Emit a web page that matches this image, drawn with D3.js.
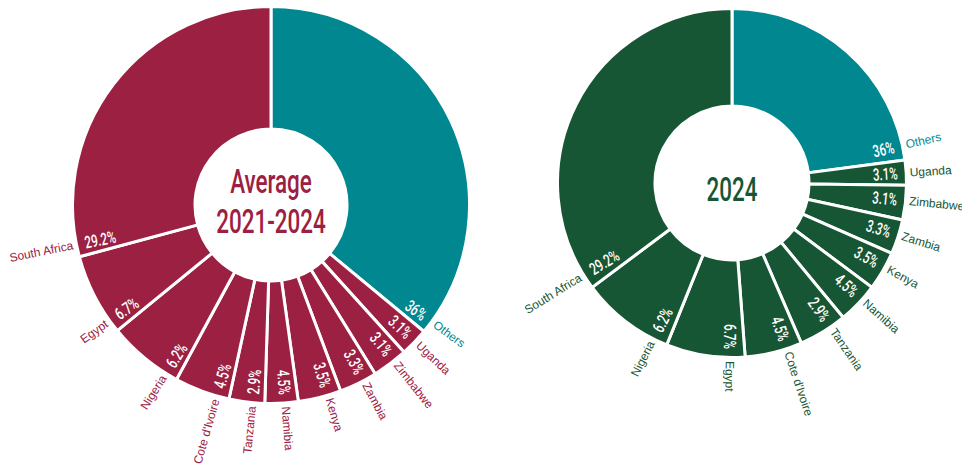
<!DOCTYPE html>
<html>
<head>
<meta charset="utf-8">
<script src="https://cdn.jsdelivr.net/npm/d3@7"></script>
<style>
  html, body { margin: 0; padding: 0; background: #ffffff; }
  svg { display: block; }
</style>
</head>
<body>
<svg id="chart" width="962" height="468"></svg>
<script>
// ---------- DATA ----------
// Average 2021-2024 (slice shares as drawn, clockwise from 12 o'clock)
const categoriesAvg = ["Others", "Uganda", "Zimbabwe", "Zambia", "Kenya", "Namibia", "Tanzania", "Cote d'Ivoire", "Nigeria", "Egypt", "South Africa"];
const sharesAvg     = [36.0, 2.3, 2.9, 3.1, 3.5, 2.7, 2.9, 4.5, 6.2, 6.7, 29.2];
const labelsAvg     = [36, 3.1, 3.1, 3.3, 3.5, 4.5, 2.9, 4.5, 6.2, 6.7, 29.2];

// 2024
const categories2024 = ["Others", "Uganda", "Zimbabwe", "Zambia", "Kenya", "Namibia", "Tanzania", "Cote d'Ivoire", "Egypt", "Nigeria", "South Africa"];
const shares2024     = [22.9, 2.3, 3.2, 3.2, 3.6, 3.8, 4.5, 5.3, 7.3, 8.7, 35.2];
const labels2024     = [36, 3.1, 3.1, 3.3, 3.5, 4.5, 2.9, 4.5, 6.7, 6.2, 29.2];

const titleAvg  = ["Average", "2021-2024"];
const title2024 = ["2024"];

// ---------- STYLE ----------
const TEAL = "#00878f";
const MAROON = "#9b2042";
const GREEN = "#175634";
const CONDENSED = "Roboto, 'Liberation Sans', sans-serif";
const SANS = "'Liberation Sans', Arial, Helvetica, sans-serif";

const svg = d3.select("#chart");

function drawDonut(cfg) {
  const g = svg.append("g").attr("transform", `translate(${cfg.cx},${cfg.cy})`);
  const pie = d3.pie().sort(null).value(d => d);
  const arcs = pie(cfg.shares);
  const arc = d3.arc().innerRadius(cfg.r0).outerRadius(cfg.r1 + 1.5);

  g.selectAll("path.slice")
    .data(arcs)
    .join("path")
    .attr("class", "slice")
    .attr("d", arc)
    .attr("fill", (d, i) => i === 0 ? TEAL : cfg.color)
    .attr("stroke", "#ffffff")
    .attr("stroke-width", 3)
    .attr("stroke-linejoin", "miter");

  const off = cfg.offDeg * Math.PI / 180;
  arcs.forEach((d, i) => {
    const w = d.endAngle - d.startAngle;
    const th = i === 0 ? d.endAngle - Math.min(w / 2, off)
                       : d.startAngle + Math.min(w / 2, off);
    const deg = th * 180 / Math.PI;
    const right = deg <= 181;
    const rot = right ? deg - 90 : deg + 90;
    const pos = r => [r * Math.sin(th), -r * Math.cos(th)];
    const col = i === 0 ? TEAL : cfg.color;

    const [px, py] = pos(cfg.r1 - 7);
    g.append("text")
      .attr("transform", `translate(${px},${py}) rotate(${rot}) scale(0.68,1)`)
      .attr("text-anchor", right ? "end" : "start")
      .attr("dy", "0.36em")
      .attr("fill", "#ffffff")
      .style("font-family", CONDENSED)
      .style("font-weight", 500)
      .style("font-size", "17px")
      .text(cfg.labels[i] + "%");

    const [qx, qy] = pos(cfg.r1 + 5);
    g.append("text")
      .attr("transform", `translate(${qx},${qy}) rotate(${rot})`)
      .attr("text-anchor", right ? "start" : "end")
      .attr("dy", "0.35em")
      .attr("fill", col)
      .style("font-family", SANS)
      .style("font-size", "12px")
      .text(cfg.categories[i]);
  });

  cfg.title.forEach((t, k) => {
    g.append("text")
      .attr("transform", `translate(0,${cfg.titleY[k]}) scale(0.68,1)`)
      .attr("text-anchor", "middle")
      .attr("fill", cfg.color)
      .style("font-family", CONDENSED)
      .style("font-weight", 500)
      .style("font-size", "33px")
      .text(t);
  });
}

drawDonut({
  cx: 271, cy: 205, r0: 76, r1: 197, offDeg: 3.7,
  color: MAROON,
  shares: sharesAvg, labels: labelsAvg, categories: categoriesAvg,
  title: titleAvg, titleY: [-12, 28]
});

drawDonut({
  cx: 732, cy: 183, r0: 77, r1: 173, offDeg: 5.0,
  color: GREEN,
  shares: shares2024, labels: labels2024, categories: categories2024,
  title: title2024, titleY: [18]
});
</script>
</body>
</html>
